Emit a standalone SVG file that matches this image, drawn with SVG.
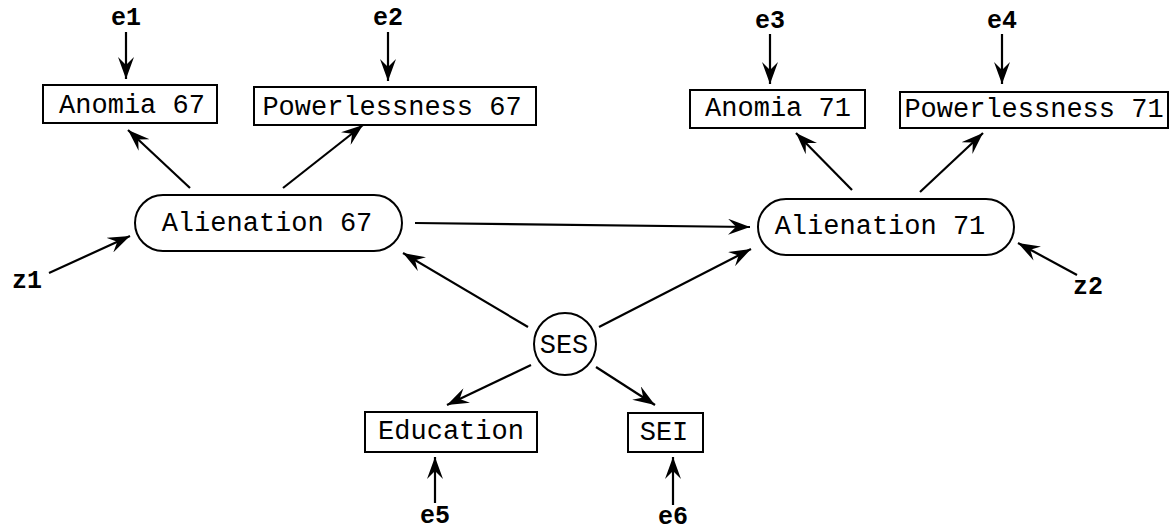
<svg xmlns="http://www.w3.org/2000/svg" width="1171" height="531" viewBox="0 0 1171 531">
  <style>
    .box { fill: #fff; stroke: #000; stroke-width: 2; }
    .lbl { font-family: "Liberation Mono", "Courier New", monospace; font-size: 27px; fill: #000; text-anchor: middle; }
    .err { font-family: "Liberation Mono", "Courier New", monospace; font-size: 25px; font-weight: bold; fill: #000; text-anchor: middle; }
    .edge { fill: none; stroke: #000; stroke-width: 2.2; marker-end: url(#head); }
  </style>
  <defs>
    <marker id="head" viewBox="0 0 22 16" refX="22" refY="8" markerWidth="22" markerHeight="16" markerUnits="userSpaceOnUse" orient="auto">
      <path d="M0,0 L22,8 L0,16 L8,8 Z" fill="#000"/>
    </marker>
  </defs>
  <rect width="1171" height="531" fill="#fff"/>

  <!-- measured indicators -->
  <g id="anomia67"><rect class="box" x="43" y="85" width="174" height="38"/><text class="lbl" x="132" y="113">Anomia 67</text></g>
  <g id="powerlessness67"><rect class="box" x="254" y="87" width="282" height="38"/><text class="lbl" x="392" y="115">Powerlessness 67</text></g>
  <g id="anomia71"><rect class="box" x="690" y="90" width="175" height="38"/><text class="lbl" x="778" y="116">Anomia 71</text></g>
  <g id="powerlessness71"><rect class="box" x="900" y="92" width="268" height="36"/><text class="lbl" x="1034" y="117">Powerlessness 71</text></g>
  <g id="education"><rect class="box" x="365" y="412" width="172" height="40"/><text class="lbl" x="451" y="439">Education</text></g>
  <g id="sei"><rect class="box" x="628" y="413" width="75" height="39"/><text class="lbl" x="664" y="440">SEI</text></g>

  <!-- latent variables -->
  <g id="alienation67"><rect class="box" x="135" y="195" width="267" height="56" rx="28"/><text class="lbl" x="267" y="231">Alienation 67</text></g>
  <g id="alienation71"><rect class="box" x="758" y="199" width="256" height="56" rx="28"/><text class="lbl" x="880" y="234">Alienation 71</text></g>
  <g id="ses"><circle class="box" cx="565" cy="344" r="31"/><text class="lbl" x="564" y="353">SES</text></g>

  <!-- error terms -->
  <g id="e1"><text class="err" x="126" y="25">e1</text></g>
  <g id="e2"><text class="err" x="388" y="25">e2</text></g>
  <g id="e3"><text class="err" x="770" y="28">e3</text></g>
  <g id="e4"><text class="err" x="1002" y="28">e4</text></g>
  <g id="e5"><text class="err" x="435" y="523">e5</text></g>
  <g id="e6"><text class="err" x="673" y="524">e6</text></g>
  <g id="z1"><text class="err" x="27" y="288">z1</text></g>
  <g id="z2"><text class="err" x="1088" y="294">z2</text></g>

  <!-- paths -->
  <g id="connectors">
    <line class="edge" x1="126" y1="32" x2="126" y2="79"/>
    <line class="edge" x1="388" y1="32" x2="388" y2="81"/>
    <line class="edge" x1="770" y1="34" x2="770" y2="84"/>
    <line class="edge" x1="1002" y1="34" x2="1002" y2="84"/>
    <line class="edge" x1="190" y1="188" x2="128" y2="130"/>
    <line class="edge" x1="283" y1="188" x2="363" y2="125"/>
    <line class="edge" x1="852" y1="190" x2="796" y2="133"/>
    <line class="edge" x1="920" y1="192" x2="983" y2="133"/>
    <line class="edge" x1="49" y1="273" x2="130" y2="236"/>
    <line class="edge" x1="1077" y1="275" x2="1018" y2="243"/>
    <line class="edge" x1="415" y1="223" x2="750" y2="227"/>
    <line class="edge" x1="528" y1="327" x2="403" y2="253"/>
    <line class="edge" x1="599" y1="327" x2="751" y2="249"/>
    <line class="edge" x1="531" y1="365" x2="447" y2="405"/>
    <line class="edge" x1="596" y1="367" x2="655" y2="405"/>
    <line class="edge" x1="435" y1="503" x2="435" y2="457"/>
    <line class="edge" x1="673" y1="505" x2="673" y2="457"/>
  </g>
</svg>
